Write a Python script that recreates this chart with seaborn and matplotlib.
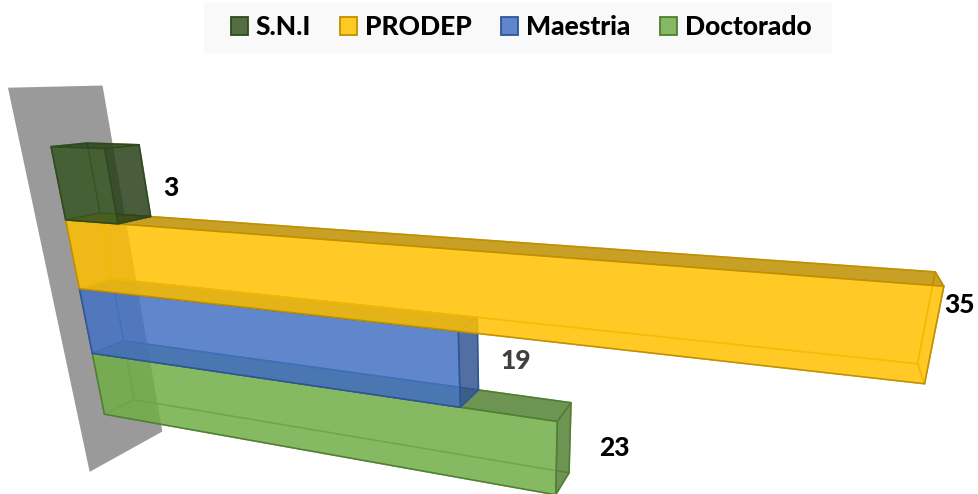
"""3D looking horizontal bars, drawn with seaborn through a perspective transform."""
import numpy as np
import pandas as pd
import matplotlib
matplotlib.use("Agg")
import matplotlib.pyplot as plt
import seaborn as sns
from matplotlib.colors import to_rgb
from matplotlib.patches import Patch, Polygon, Rectangle
from matplotlib.transforms import Affine2D, Transform

# chart data
CATEGORIES = ["S.N.I", "PRODEP", "Maestria", "Doctorado"]
VALUES = [3, 35, 19, 23]

# styling
BAR_COLORS = ["#375623", "#FFC000", "#4472C4", "#70AD47"]
EDGE_COLORS = ["#2F4A1D", "#BF9000", "#2F5597", "#507E32"]
LABEL_COLORS = ["#000000", "#000000", "#404040", "#000000"]
LABEL_OFFSETS = [(60, 1), (26, -31), (56, -9), (58, -11)]
ALPHA = 0.85
WIDTH, HEIGHT = 979, 494
FONT = {"family": "Lato", "weight": 900, "size": 19}

# camera calibration: (value, category position, depth) -> picture pixel
CAMERA_WORLD = [
    (0, -.5, 0), (0, .5, 0), (0, 1.5, 0), (0, 2.5, 0), (0, 3.5, 0),
    (3, -.5, 0), (3, .5, 0), (19, 1.5, 0), (19, 2.5, 0),
    (23, 2.5, 0), (23, 3.5, 0), (35, .5, 0), (35, 1.5, 0),
    (0, 1.5, 1), (0, 2.5, 1), (0, 3.5, 1), (3, -.5, 1), (3, .5, 1),
    (19, 2.5, 1), (23, 2.5, 1), (23, 3.5, 1), (35, .5, 1), (35, 1.5, 1),
]
CAMERA_PIXELS = [
    (51, 146), (66, 220), (80, 289), (92, 353), (105, 415),
    (105, 149), (117, 223), (458, 332), (459, 407),
    (557, 422), (556, 494), (944, 286), (925, 384),
    (112, 280), (123, 341), (134, 399), (139, 145), (151, 216),
    (479, 389), (572, 403), (569, 473), (935, 272), (917, 364),
]
# back wall extent in the same world units
WALL_VALUE = 0
WALL_ROWS = (-1.27, 4.27)
WALL_DEPTHS = (-0.76, 1.75)


def fit_camera(world, pixels):
    """Least squares fit of a 3x4 projective matrix."""
    rows, rhs = [], []
    for (a, b, c), (px, py) in zip(world, pixels):
        rows.append([a, b, c, 1, 0, 0, 0, 0, -px * a, -px * b, -px * c])
        rows.append([0, 0, 0, 0, a, b, c, 1, -py * a, -py * b, -py * c])
        rhs += [px, py]
    sol = np.linalg.lstsq(np.array(rows, float), np.array(rhs, float), rcond=None)[0]
    return np.append(sol, 1).reshape(3, 4)


CAMERA = fit_camera(CAMERA_WORLD, CAMERA_PIXELS)


def project(value, row, depth=0):
    pts = CAMERA @ np.array([value, row, depth, 1.0])
    return pts[0] / pts[2], pts[1] / pts[2]


class DepthPlane(Transform):
    """Maps (value, category position) on one depth plane to picture pixels."""
    input_dims = 2
    output_dims = 2

    def __init__(self, plane=0):
        super().__init__()
        self.plane = plane

    def transform_non_affine(self, values):
        values = np.asarray(values, float)
        out = [project(v, r, self.plane) for v, r in values]
        return np.array(out).reshape(-1, 2)


data = pd.DataFrame({"category": CATEGORIES, "value": VALUES})

fig, ax = plt.subplots(figsize=(WIDTH / 100, HEIGHT / 100), dpi=100)
fig.subplots_adjust(0, 0, 1, 1)
pixels = Affine2D().scale(1, -1).translate(0, HEIGHT)

sns.barplot(data=data, x="value", y="category", hue="category", order=CATEGORIES,
            hue_order=CATEGORIES, palette=BAR_COLORS, width=1, dodge=False,
            alpha=ALPHA, legend=False, ax=ax)
ax.axis("off")

# wall behind the bars
d0, d1 = WALL_DEPTHS
r0, r1 = WALL_ROWS
wall = [project(WALL_VALUE, r, d) for r, d in [(r0, d0), (r0, d1), (r1, d1), (r1, d0)]]
ax.add_patch(Polygon(wall, closed=True, transform=pixels, facecolor="#9A9A9A",
                     edgecolor="none", zorder=1, clip_on=False))

bars = [c[0] for c in ax.containers]
for i, bar in enumerate(bars):
    v0, v1 = bar.get_x(), bar.get_x() + bar.get_width()
    r0, r1 = sorted([bar.get_y(), bar.get_y() + bar.get_height()])
    base = np.array(to_rgb(BAR_COLORS[i]))
    edge = to_rgb(EDGE_COLORS[i])
    dark = (*(base * 0.75), ALPHA)
    z = 10 * (len(bars) - i) + 5  # lower rows are painted first

    # the end face is only seen from outside when it leans to the right
    end_fill = dark if project(v1, r0, 1)[0] > project(v1, r0, 0)[0] else "none"

    # (corners, fill, edge) of the faces behind the front one
    faces = [
        ([(v0, r0, 1), (v1, r0, 1), (v1, r1, 1), (v0, r1, 1)], "none", (*edge, 0.6)),
        ([(v0, r1, 0), (v1, r1, 0), (v1, r1, 1), (v0, r1, 1)], "none", (*edge, 0.6)),
        ([(v0, r0, 0), (v0, r1, 0), (v0, r1, 1), (v0, r0, 1)], "none", (*edge, 0.6)),
        ([(v0, r0, 0), (v1, r0, 0), (v1, r0, 1), (v0, r0, 1)], dark, edge),
        ([(v1, r0, 0), (v1, r1, 0), (v1, r1, 1), (v1, r0, 1)], end_fill, edge),
    ]
    for corners, fill, line in faces:
        ax.add_patch(Polygon([project(*c) for c in corners], closed=True, transform=pixels,
                             facecolor=fill, edgecolor=line, linewidth=1.1,
                             joinstyle="round", zorder=z, clip_on=False))

    # the seaborn bar is the front face
    bar.set_transform(DepthPlane(0) + pixels)
    bar.set_clip_on(False)
    bar.set_alpha(None)
    bar.set_facecolor((*base, ALPHA))
    bar.set_edgecolor(edge)
    bar.set_linewidth(1.1)
    bar.set_zorder(z + 1)

    # value label next to the end of the bar
    x, y = project(VALUES[i], (r0 + r1) / 2)
    dx, dy = LABEL_OFFSETS[i]
    ax.text(x + dx, y + dy, str(VALUES[i]), transform=pixels, fontdict=FONT,
            color=LABEL_COLORS[i], ha="center", va="center", zorder=100, clip_on=False)

# legend band
fig.add_artist(Rectangle((204, 3), 628, 50, transform=pixels, facecolor="#F9F9F9",
                         edgecolor="none", zorder=0))
handles = [Patch(facecolor=(*to_rgb(c), ALPHA), edgecolor=e, linewidth=1.3, label=n)
           for c, e, n in zip(BAR_COLORS, EDGE_COLORS, CATEGORIES)]
fig.legend(handles=handles, ncol=4, loc="center", bbox_to_anchor=(521 / WIDTH, 1 - 27 / HEIGHT),
           prop=FONT, handlelength=0.65, handleheight=0.65, handletextpad=0.3,
           columnspacing=1.1, frameon=False)

plt.savefig("out.png", dpi=100)
